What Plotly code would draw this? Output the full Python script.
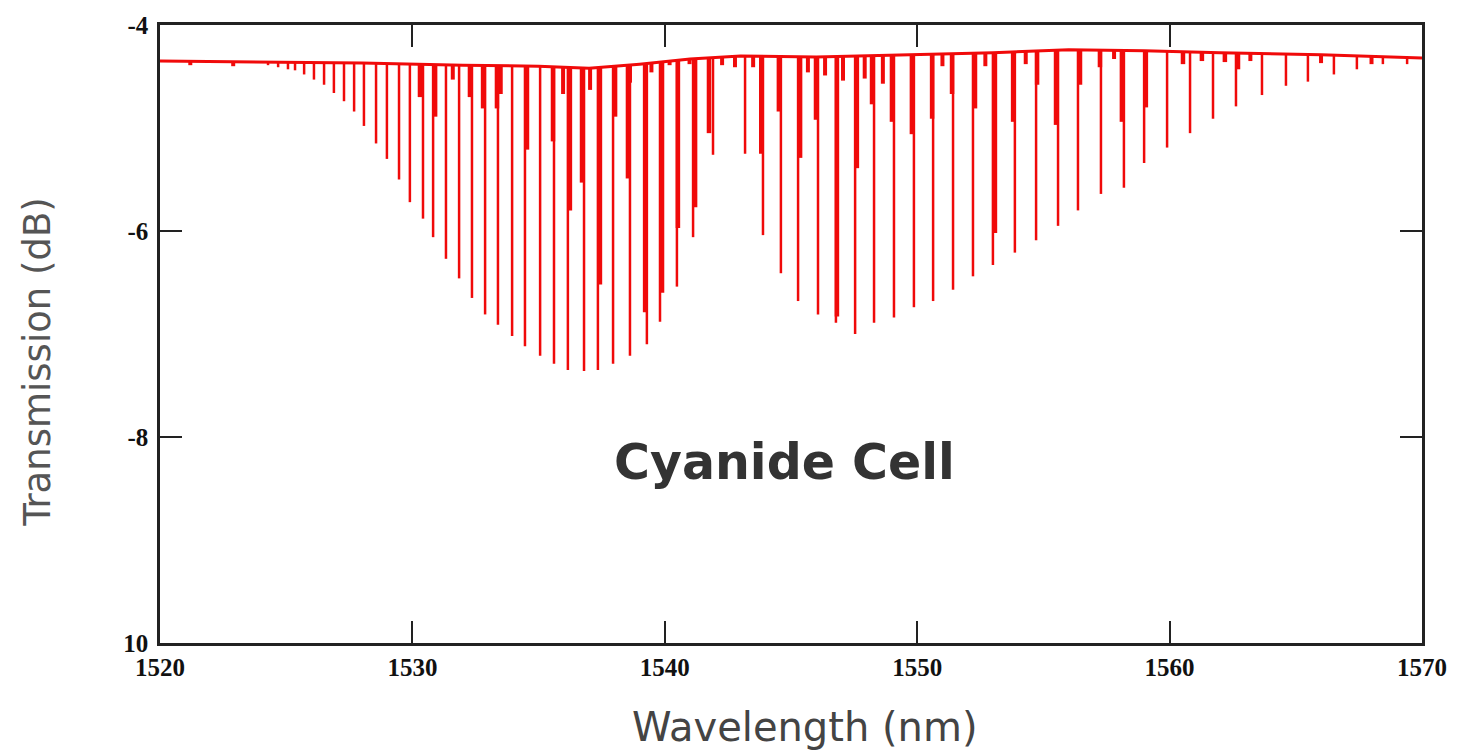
import numpy as np
import plotly.graph_objects as go

# Baseline (top level of the trace)
base_wl = [1520, 1524, 1528, 1532, 1535, 1537, 1539, 1541, 1543, 1546, 1550, 1553, 1556, 1559, 1562, 1566, 1570]
base_db = [-4.35, -4.36, -4.37, -4.39, -4.40, -4.42, -4.38, -4.33, -4.30, -4.31, -4.29, -4.27, -4.24, -4.25, -4.27, -4.29, -4.32]

# Main absorption lines (centre wavelength, minimum transmission)
main_wl = [1524.28, 1524.68, 1525.07, 1525.35, 1525.71, 1526.10, 1526.50, 1526.89, 1527.29, 1527.69,
           1528.08, 1528.56, 1528.99, 1529.47, 1529.90, 1530.42, 1530.82, 1531.33, 1531.85, 1532.36,
           1532.88, 1533.39, 1533.95, 1534.46, 1535.06, 1535.61, 1536.16, 1536.80, 1537.35, 1537.95,
           1538.62, 1539.29, 1539.81, 1540.48, 1541.12, 1541.91,
           1543.18, 1543.89, 1544.60, 1545.28, 1546.07, 1546.78, 1547.54, 1548.29, 1549.08, 1549.87,
           1550.63, 1551.42, 1552.21, 1553.00, 1553.87, 1554.71, 1555.58, 1556.37, 1557.28, 1558.19,
           1558.99, 1559.90, 1560.81, 1561.72, 1562.63, 1563.66, 1564.61, 1565.48, 1566.51, 1567.42,
           1568.45, 1569.41]
main_db = [-4.39, -4.41, -4.43, -4.44, -4.48, -4.53, -4.58, -4.66, -4.74, -4.84,
           -4.98, -5.15, -5.30, -5.50, -5.72, -5.88, -6.06, -6.27, -6.46, -6.65,
           -6.81, -6.91, -7.02, -7.12, -7.21, -7.29, -7.35, -7.36, -7.35, -7.29,
           -7.21, -7.10, -6.88, -6.54, -6.06, -5.26,
           -5.25, -6.04, -6.41, -6.68, -6.81, -6.89, -7.00, -6.89, -6.84, -6.74,
           -6.68, -6.57, -6.44, -6.33, -6.21, -6.09, -5.95, -5.80, -5.64, -5.58,
           -5.34, -5.19, -5.05, -4.91, -4.79, -4.68, -4.59, -4.55, -4.48, -4.43,
           -4.38, -4.38]

# Weaker (hot-band) lines lying beside the main ones
hot_wl = [1530.30, 1530.90, 1532.28, 1532.80, 1533.35, 1534.54, 1535.57, 1536.24, 1536.72, 1537.43,
          1538.03, 1538.54, 1539.22, 1539.89, 1540.52, 1541.20, 1541.75,
          1543.82, 1544.52, 1545.36, 1545.99, 1546.82, 1547.61, 1548.21, 1549.00, 1549.79,
          1550.59, 1551.38, 1552.29, 1553.08, 1553.80, 1554.75, 1555.50, 1556.45, 1557.24,
          1558.11, 1559.06, 1560.53, 1561.28, 1562.19, 1562.71]
hot_db = [-4.70, -4.89, -4.70, -4.81, -4.81, -5.21, -5.13, -5.80, -5.53, -6.52,
          -4.89, -5.49, -6.79, -6.60, -5.97, -5.77, -5.05,
          -5.25, -4.84, -5.29, -4.92, -6.83, -5.39, -4.77, -4.94, -5.06,
          -4.91, -4.67, -4.81, -6.02, -4.94, -4.58, -4.97, -4.58, -4.41,
          -4.94, -4.80, -4.38, -4.35, -4.36, -4.43]

# Small notches in the top trace
small_wl = [1521.2, 1522.9, 1531.60, 1533.50, 1535.97, 1537.04, 1538.62, 1539.47, 1540.19, 1540.98,
            1542.27, 1542.78, 1543.50, 1545.67, 1546.35, 1547.06, 1547.92, 1548.64, 1551.00, 1552.70,
            1554.30, 1557.80, 1563.20, 1566.00, 1568.00]
small_db = [-4.39, -4.40, -4.53, -4.67, -4.67, -4.63, -4.56, -4.46, -4.39, -4.38,
            -4.39, -4.41, -4.41, -4.46, -4.49, -4.54, -4.52, -4.57, -4.40, -4.40,
            -4.38, -4.33, -4.35, -4.37, -4.38]

RED = "#f00a0a"


def dip_segments(wl, db):
    tops = np.interp(wl, base_wl, base_db)
    xs, ys = [], []
    for w, t, d in zip(wl, tops, db):
        xs += [w, w, None]
        ys += [t, d, None]
    return xs, ys


fig = go.Figure()
fig.add_trace(go.Scatter(x=base_wl, y=base_db, mode="lines",
                         line=dict(color=RED, width=3), hoverinfo="skip", showlegend=False))
for wl, db, w in [(small_wl, small_db, 4), (hot_wl, hot_db, 4.5), (main_wl, main_db, 2.5)]:
    xs, ys = dip_segments(wl, db)
    fig.add_trace(go.Scatter(x=xs, y=ys, mode="lines", line=dict(color=RED, width=w),
                             hoverinfo="skip", showlegend=False))

x_ticks = [1520, 1530, 1540, 1550, 1560, 1570]
y_ticks = [-4, -6, -8, -10]
y_ticktext = ["-4", "-6", "-8", "10"]

axis_common = dict(showgrid=False, zeroline=False, showline=True, linecolor="#222",
                   linewidth=2.5, mirror="ticks", ticks="inside", ticklen=22, tickwidth=2,
                   tickcolor="#222",
                   tickfont=dict(family="Liberation Serif", size=25, color="#111", weight="bold"))

fig.update_layout(
    width=1463, height=755,
    margin=dict(l=160, r=41, t=14, b=112),
    paper_bgcolor="white", plot_bgcolor="white",
    xaxis=dict(range=[1520, 1570], tickvals=x_ticks, ticktext=[str(v) for v in x_ticks],
               ticklabelstandoff=0, **axis_common),
    yaxis=dict(range=[-10, -4], tickvals=y_ticks, ticktext=y_ticktext,
               ticklabelstandoff=4, **axis_common),
    annotations=[
        dict(text="Cyanide Cell", x=1544.76, y=-8.25, xref="x", yref="y", showarrow=False,
             font=dict(family="DejaVu Sans", size=49, color="#333", weight="bold")),
        dict(text="Wavelength (nm)", x=0.511, y=-0.136, xref="paper", yref="paper",
             showarrow=False, xanchor="center", yanchor="middle",
             font=dict(family="DejaVu Sans", size=40, color="#444")),
        dict(text="Transmission (dB)", x=-0.0967, y=0.455, xref="paper", yref="paper",
             showarrow=False, xanchor="center", yanchor="middle", textangle=-90,
             font=dict(family="DejaVu Sans", size=37, color="#555")),
    ],
)

fig.write_html("out.html", config={"displayModeBar": False},
               post_script="document.body.style.margin='0';")
